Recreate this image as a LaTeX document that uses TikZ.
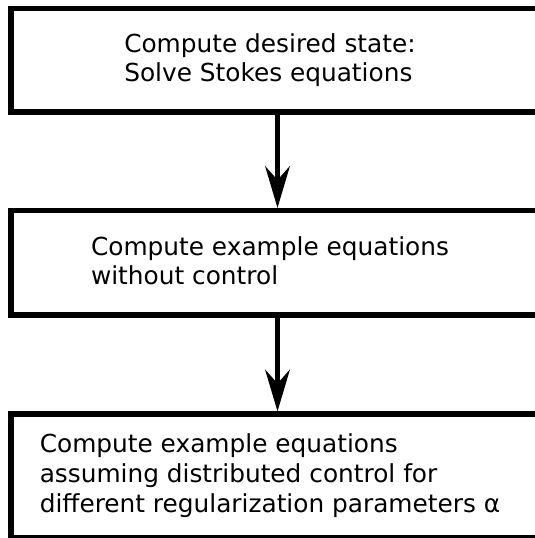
\documentclass[tikz,border=0pt]{standalone}
\usepackage{fontspec}
\setmainfont{DejaVu Sans}
\usepackage{tikz}
\usetikzlibrary{arrows.meta,positioning}

\begin{document}
\begin{tikzpicture}[
    x=1pt, y=-1pt,
    box/.style={draw, line width=5.2pt, minimum width=533pt, inner sep=0pt},
    boxtext/.style={align=left, inner sep=0pt, font=\fontsize{24.8}{29.6}\selectfont},
    flow/.style={-{Stealth[length=42pt, width=25pt, inset=14pt, line width=0pt]}, line width=5.2pt}
]
    \useasboundingbox (0,0) rectangle (535,538);

    % Stages
    \node[box, minimum height=103.5pt] (desired) at (277.5,60.25) {};
    \node[box, minimum height=104.5pt] (nocontrol) at (277.5,262.75) {};
    \node[box, minimum height=123.5pt] (distributed) at (277.5,475.75) {};

    % Stage descriptions
    \node[boxtext] (desiredtxt) at ([xshift=-7.5pt]desired.center)
        {Compute desired state:\\Solve Stokes equations};
    \node[boxtext] (nocontroltxt) at ([xshift=-7.5pt,yshift=2pt]nocontrol.center)
        {Compute example equations\\without control};
    \node[boxtext] (distributedtxt) at ([xshift=-7.5pt]distributed.center)
        {Compute example equations\\assuming distributed control for\\different regularization parameters α};

    % Order of computation
    \draw[flow] (desired.south) -- (nocontrol.north);
    \draw[flow] (nocontrol.south) -- (distributed.north);
\end{tikzpicture}
\end{document}
